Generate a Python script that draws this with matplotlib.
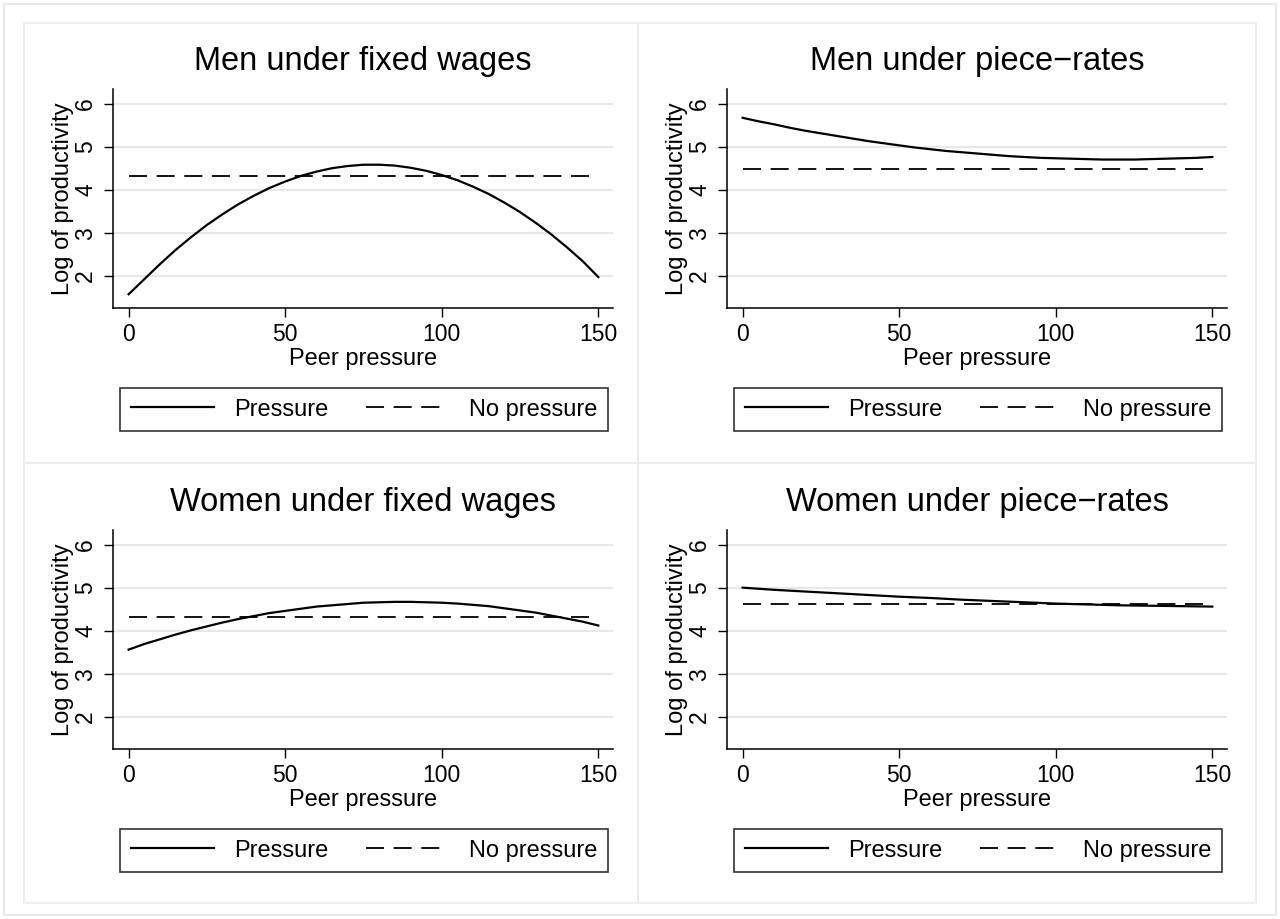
import numpy as np
import matplotlib
matplotlib.use("Agg")
import matplotlib.pyplot as plt
from matplotlib.lines import Line2D
from matplotlib.patches import Rectangle

plt.rcParams['font.family'] = ['Liberation Sans', 'DejaVu Sans']

# data
peer = [0, 5, 10, 15, 20, 25, 30, 35, 40, 45, 50, 55, 60, 65, 70, 75,
        80, 85, 90, 95, 100, 105, 110, 115, 120, 125, 130, 135, 140, 145, 150]
men_fixed = [1.58, 1.93, 2.28, 2.61, 2.91, 3.19, 3.44, 3.67, 3.87, 4.05, 4.20, 4.33, 4.43, 4.51, 4.56, 4.59,
             4.59, 4.57, 4.52, 4.45, 4.35, 4.23, 4.08, 3.91, 3.71, 3.49, 3.24, 2.97, 2.67, 2.35, 1.98]
men_piece = [5.68, 5.60, 5.53, 5.45, 5.38, 5.32, 5.26, 5.20, 5.14, 5.09, 5.04, 4.99, 4.95, 4.91, 4.88, 4.85,
             4.82, 4.79, 4.77, 4.75, 4.74, 4.73, 4.72, 4.71, 4.71, 4.71, 4.72, 4.73, 4.74, 4.75, 4.77]
women_fixed = [3.57, 3.70, 3.81, 3.92, 4.02, 4.11, 4.20, 4.28, 4.35, 4.42, 4.47, 4.52, 4.57, 4.60, 4.63, 4.66,
               4.67, 4.68, 4.68, 4.67, 4.66, 4.64, 4.61, 4.58, 4.53, 4.48, 4.43, 4.36, 4.29, 4.22, 4.13]
women_piece = [5.01, 4.985, 4.96, 4.94, 4.92, 4.90, 4.88, 4.86, 4.84, 4.82, 4.80, 4.785, 4.77, 4.75, 4.73, 4.715,
               4.70, 4.685, 4.67, 4.655, 4.64, 4.63, 4.62, 4.61, 4.60, 4.595, 4.59, 4.585, 4.58, 4.575, 4.57]
nopress_x = [0, 147]
nopress_level = [4.33, 4.48, 4.33, 4.63]

titles = ["Men under fixed wages", "Men under piece\u2212rates",
          "Women under fixed wages", "Women under piece\u2212rates"]
curves = [men_fixed, men_piece, women_fixed, women_piece]

xticks = [0, 50, 100, 150]
yticks = [2, 3, 4, 5, 6]

W, H = 1280, 919
fig = plt.figure(figsize=(W / 100, H / 100), dpi=100)

# outer border and panel borders (pixels, from top-left)
def px_rect(x0, y0, x1, y1, col):
    fig.patches.append(Rectangle((x0 / W, 1 - y1 / H), (x1 - x0) / W, (y1 - y0) / H,
                                 transform=fig.transFigure, fill=False,
                                 edgecolor=col, linewidth=1.2))

px_rect(4, 4, 1276, 915, '#e4e4e4')
for px0, px1 in [(24, 638), (638, 1256)]:
    for py0, py1 in [(23, 463), (463, 903)]:
        px_rect(px0, py0, px1, py1, '#ececec')

dash = (10.0, 5.3)

for i in range(4):
    col = i % 2
    row = i // 2
    left = 113 + col * 614
    top = 89 + row * 441
    ax = fig.add_axes([left / W, 1 - (top + 219) / H, 500 / W, 219 / H])

    ax.plot(peer, curves[i], color='black', lw=1.6, zorder=3)
    ax.plot(nopress_x, [nopress_level[i]] * 2, color='black', lw=1.3,
            dashes=dash, zorder=3)

    ax.set_xlim(-5, 154.7)
    ax.set_ylim(1.26, 6.35)
    ax.set_xticks(xticks)
    ax.set_yticks(yticks)
    ax.grid(axis='y', color='#e8e8e8', lw=1.6)
    ax.set_axisbelow(True)
    for s in ['top', 'right']:
        ax.spines[s].set_visible(False)
    for s in ['left', 'bottom']:
        ax.spines[s].set_linewidth(1.1)
    ax.tick_params(direction='out', length=6.5, width=1.0, labelsize=16.5, pad=4)
    ax.tick_params(axis='y', pad=5)
    for lab in ax.get_yticklabels():
        lab.set_rotation(90)
        lab.set_va('center')

    ax.set_xlabel("Peer pressure", fontsize=17, labelpad=1.5)
    ax.set_ylabel("Log of productivity", fontsize=17, va='center')
    ax.yaxis.set_label_coords(-0.1, 0.5)
    ax.set_title(titles[i], fontsize=23.5, pad=14)

    handles = [Line2D([], [], color='black', lw=1.6),
               Line2D([], [], color='black', lw=1.3, dashes=dash)]
    leg = ax.legend(handles, ["Pressure", "No pressure"], loc='center',
                    bbox_to_anchor=(0.502, -0.4635), ncol=2, frameon=True,
                    fancybox=False, edgecolor='black', fontsize=17,
                    handlelength=3.5, handletextpad=0.85, columnspacing=1.6,
                    borderpad=0.45)
    leg.get_frame().set_linewidth(1.2)

fig.savefig("out.png", dpi=100, facecolor='white')
